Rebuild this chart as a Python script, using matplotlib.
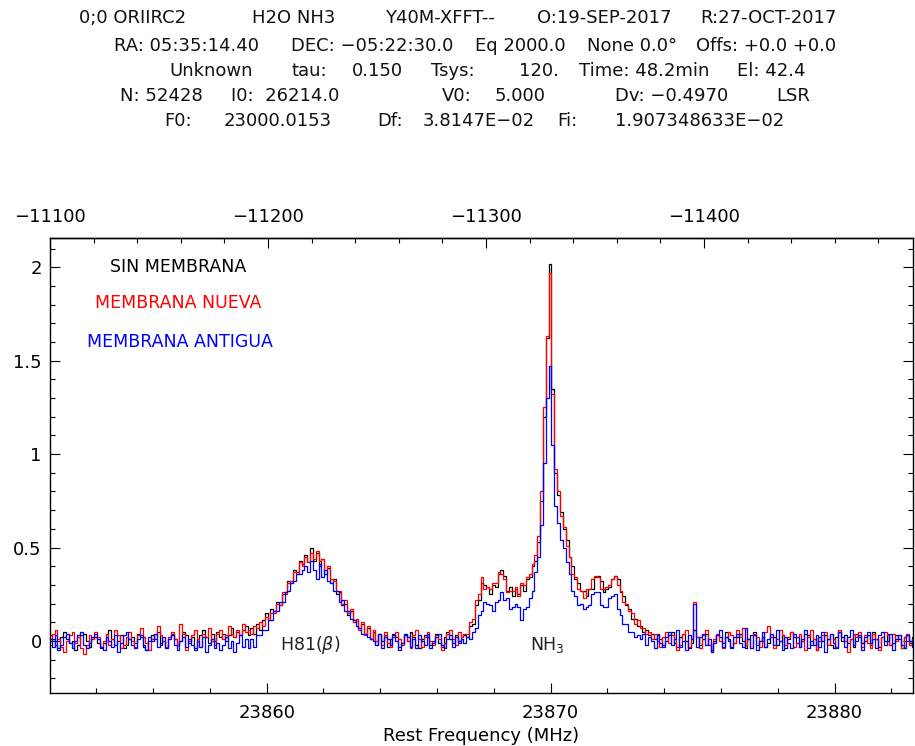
import numpy as np
import matplotlib

matplotlib.use("Agg")
import matplotlib.pyplot as plt
from matplotlib.ticker import MultipleLocator, FixedLocator, FuncFormatter

# channel grid of the resampled spectra (MHz)
f_start = 23852.38
f_step = 0.1

# header values (CLASS style)
f0 = 23000.0153
df = 3.8147e-02
v0 = 5.000
dv = -0.4970

sin_membrana = [
    0.03, 0.01, -0.02, -0.04, 0.02, 0.05, 0.01, -0.01, 0.00, -0.05,
    -0.02, 0.03, 0.04, 0.00, -0.03, 0.01, 0.02, -0.01, -0.04, -0.01,
    0.04, 0.06, 0.01, -0.02, 0.00, 0.03, -0.04, -0.02, 0.01, 0.02,
    -0.01, 0.04, 0.02, -0.03, -0.05, 0.00, 0.03, 0.01, 0.05, -0.02,
    0.00, -0.03, 0.02, 0.04, 0.01, -0.02, 0.00, 0.05, 0.03, -0.01,
    0.02, -0.04, 0.01, 0.03, 0.06, 0.02, -0.01, 0.04, 0.00, 0.05,
    0.02, 0.04, 0.00, 0.03, 0.07, 0.02, 0.05, 0.03, 0.06, 0.08,
    # H81(beta)
    0.03, 0.07, 0.04, 0.09, 0.06, 0.11, 0.15, 0.11, 0.17, 0.16,
    0.21, 0.19, 0.25, 0.26, 0.32, 0.31, 0.38, 0.37, 0.43, 0.41,
    0.46, 0.42, 0.50, 0.43, 0.47, 0.40, 0.44, 0.36, 0.39, 0.31,
    0.33, 0.25, 0.26, 0.19, 0.20, 0.14, 0.16, 0.10, 0.12, 0.07,
    0.09, 0.04, 0.07, 0.01, 0.05, -0.02, 0.04, 0.00, 0.03, -0.03,
    # baseline
    0.01, 0.04, 0.02, -0.03, -0.01, 0.03, 0.00, 0.05, 0.02, -0.02,
    -0.04, 0.01, 0.03, 0.02, -0.02, 0.00, 0.04, -0.01, -0.03, 0.02,
    0.05, 0.01, -0.01, 0.03, 0.00, 0.02,
    # NH3
    0.03, 0.02, 0.08, 0.09, 0.19, 0.22, 0.31, 0.30, 0.29, 0.25,
    0.30, 0.29, 0.36, 0.38, 0.35, 0.27, 0.29, 0.24, 0.28, 0.25,
    0.30, 0.27, 0.33, 0.34, 0.40, 0.43, 0.53, 0.75, 1.20, 1.62,
    2.02, 1.35, 0.90, 0.78, 0.69, 0.60, 0.54, 0.45, 0.40, 0.33,
    0.31, 0.27, 0.27, 0.24, 0.28, 0.28, 0.34, 0.35, 0.32, 0.26,
    0.28, 0.29, 0.33, 0.35, 0.33, 0.26, 0.24, 0.19, 0.17, 0.12,
    0.12, 0.08, 0.08, 0.05, 0.06, 0.03, 0.04, 0.01,
    # baseline
    0.04, 0.01, -0.02, 0.00, 0.03, 0.05, -0.01, -0.03, 0.02, 0.04,
    0.00, -0.04, -0.01, 0.06, 0.02, -0.02,
    0.01, 0.04, -0.02, -0.05, 0.00, 0.03, 0.02, -0.01, 0.05, 0.01,
    -0.03, -0.01, 0.02, 0.04, 0.00, -0.04, 0.01, 0.03, 0.05, -0.02,
    0.00, 0.02, -0.03, -0.01, 0.04, 0.02, -0.02, 0.00, 0.03, -0.04,
    0.01, 0.05, 0.02, -0.01, -0.03, 0.00, 0.04, 0.03, -0.02, 0.01,
    -0.05, 0.02, 0.00, 0.03, 0.01, -0.02, -0.04, 0.02, 0.05, 0.00,
    0.03, -0.01, 0.01, -0.03, 0.04, 0.02, -0.01, 0.00, 0.03, -0.02,
    0.05, 0.01, -0.03, 0.02, 0.00, 0.04, -0.02, -0.01, 0.03, 0.01,
    -0.04, 0.02, 0.03, -0.01, 0.02,
]

membrana_nueva = [
    -0.02, 0.04, 0.06, 0.01, -0.03, -0.06, 0.00, 0.03, 0.05, -0.01,
    0.02, -0.04, -0.07, -0.02, 0.03, 0.01, 0.05, 0.02, -0.03, 0.00,
    0.04, -0.02, 0.01, 0.06, 0.03, -0.04, -0.02, 0.02, 0.05, 0.00,
    -0.03, 0.03, 0.07, 0.02, -0.01, -0.05, 0.01, 0.04, 0.08, 0.03,
    0.00, -0.03, 0.02, 0.05, 0.01, -0.02, 0.09, 0.04, -0.05, 0.00,
    0.03, 0.06, 0.01, -0.03, 0.04, 0.02, 0.07, 0.00, -0.02, 0.04,
    0.06, 0.01, 0.03, 0.08, 0.04, 0.02, 0.06, 0.03, 0.09, 0.05,
    # H81(beta)
    0.06, 0.04, 0.08, 0.07, 0.10, 0.08, 0.13, 0.11, 0.15, 0.15,
    0.20, 0.19, 0.26, 0.25, 0.31, 0.32, 0.37, 0.36, 0.42, 0.40,
    0.45, 0.42, 0.47, 0.44, 0.48, 0.43, 0.44, 0.38, 0.40, 0.33,
    0.32, 0.27, 0.27, 0.20, 0.22, 0.15, 0.17, 0.10, 0.12, 0.06,
    0.10, 0.03, 0.08, 0.01, 0.06, 0.00, 0.04, -0.02, 0.05, -0.01,
    # baseline
    -0.03, 0.02, 0.05, 0.01, -0.02, 0.04, 0.00, -0.04, 0.03, 0.06,
    0.01, -0.03, 0.02, 0.05, 0.00, -0.02, 0.03, 0.01, -0.05, -0.01,
    0.04, 0.06, 0.01, -0.02, 0.05, 0.02,
    # NH3
    0.04, 0.04, 0.10, 0.12, 0.22, 0.25, 0.34, 0.28, 0.29, 0.28,
    0.31, 0.31, 0.37, 0.36, 0.33, 0.26, 0.27, 0.27, 0.29, 0.24,
    0.31, 0.30, 0.34, 0.36, 0.41, 0.46, 0.56, 0.80, 1.25, 1.63,
    1.97, 1.32, 0.92, 0.80, 0.67, 0.61, 0.51, 0.45, 0.36, 0.34,
    0.28, 0.27, 0.23, 0.28, 0.28, 0.33, 0.35, 0.34, 0.28, 0.28,
    0.29, 0.30, 0.33, 0.35, 0.30, 0.27, 0.21, 0.20, 0.16, 0.15,
    0.09, 0.11, 0.07, 0.07, 0.04, 0.05, 0.01,
    # baseline with the spike near 23875.1 MHz
    0.04, 0.00, -0.03, 0.02, 0.05, -0.01, 0.03, 0.01, -0.05, -0.02,
    0.04, 0.06, -0.03, 0.01, 0.21, 0.02, -0.04,
    0.03, 0.06, -0.02, -0.06, 0.01, 0.04, 0.00, -0.04, 0.02, 0.05,
    0.03, -0.01, 0.06, 0.02, 0.07, -0.02, 0.01, -0.04, 0.04, 0.02,
    -0.03, 0.00, 0.05, 0.08, 0.02, -0.04, 0.01, 0.06, 0.03, -0.02,
    0.02, 0.05, -0.03, -0.01, 0.04, 0.00, -0.05, 0.02, 0.06, 0.01,
    -0.05, 0.00, 0.03, 0.05, -0.02, 0.04, 0.01, -0.03, 0.06, 0.02,
    0.00, -0.06, 0.01, 0.04, 0.02, 0.05, -0.03, 0.03, -0.01, -0.04,
    0.04, 0.01, -0.05, 0.02, 0.05, 0.03, -0.02, 0.04, 0.00, 0.03,
    -0.04, 0.02, 0.04, -0.02, 0.01,
]

membrana_antigua = [
    0.01, -0.03, 0.03, -0.05, -0.02, 0.02, 0.04, -0.01, -0.04, 0.00,
    0.03, 0.05, -0.02, -0.04, -0.01, 0.02, 0.04, 0.01, -0.03, -0.05,
    0.02, 0.00, -0.03, 0.03, -0.06, -0.01, 0.03, 0.05, 0.01, -0.02,
    -0.04, 0.01, 0.03, -0.02, -0.05, 0.02, 0.00, 0.04, -0.03, -0.01,
    0.02, -0.04, 0.01, 0.03, -0.02, -0.05, 0.00, 0.02, -0.03, 0.01,
    -0.02, -0.05, 0.00, -0.03, 0.02, -0.06, -0.02, 0.01, -0.04, -0.01,
    -0.05, -0.02, 0.02, -0.04, 0.00, -0.06, -0.01, 0.03, -0.03, 0.01,
    # H81(beta)
    -0.04, 0.01, -0.03, 0.03, 0.03, 0.06, 0.06, 0.11, 0.11, 0.16,
    0.16, 0.21, 0.21, 0.26, 0.27, 0.31, 0.32, 0.36, 0.36, 0.38,
    0.40, 0.37, 0.43, 0.38, 0.33, 0.41, 0.34, 0.38, 0.32, 0.31,
    0.27, 0.27, 0.21, 0.22, 0.16, 0.16, 0.12, 0.11, 0.08, 0.07,
    0.04, 0.04, 0.02, 0.01, 0.00, -0.02, 0.04, -0.04, 0.02, 0.01,
    # baseline
    -0.02, 0.03, 0.00, -0.05, -0.01, 0.04, 0.02, -0.03, 0.01, -0.04,
    0.03, 0.00, -0.02, 0.04, -0.04, -0.01, 0.02, 0.04, -0.02, -0.04,
    0.01, 0.03, -0.03, 0.02, -0.01, 0.01,
    # NH3
    -0.01, 0.02, 0.01, 0.05, 0.07, 0.14, 0.16, 0.21, 0.20, 0.19,
    0.16, 0.21, 0.22, 0.26, 0.22, 0.23, 0.17, 0.18, 0.20, 0.18,
    0.11, 0.17, 0.18, 0.23, 0.27, 0.37, 0.45, 0.62, 0.95, 1.30,
    1.47, 1.05, 0.72, 0.63, 0.54, 0.50, 0.42, 0.36, 0.27, 0.24,
    0.19, 0.20, 0.17, 0.18, 0.19, 0.25, 0.26, 0.26, 0.19, 0.18,
    0.18, 0.23, 0.24, 0.25, 0.17, 0.14, 0.09, 0.09, 0.05, 0.05,
    0.02, 0.03,
    # baseline with the spike near 23875.1 MHz
    0.01, 0.04, -0.02, 0.02, 0.00, -0.04, 0.03, -0.01, -0.03, 0.02,
    0.05, -0.02, 0.01, 0.06, -0.03, 0.00, -0.05, 0.03, 0.01, 0.20,
    -0.03, 0.02,
    0.04, -0.02, 0.01, -0.06, -0.01, 0.03, 0.06, -0.03, 0.02, 0.00,
    -0.04, 0.02, 0.04, -0.01, -0.03, 0.07, 0.01, -0.04, 0.03, -0.05,
    0.00, 0.05, -0.03, 0.01, 0.04, -0.02, 0.06, 0.00, -0.05, 0.02,
    -0.01, -0.04, 0.04, 0.02, -0.03, 0.01, 0.06, -0.04, 0.00, -0.02,
    0.03, -0.03, 0.05, -0.06, 0.01, 0.04, -0.01, -0.04, 0.05, 0.02,
    -0.03, 0.02, 0.06, -0.02, 0.00, 0.03, -0.05, 0.02, 0.05, -0.01,
    0.01, -0.04, 0.03, 0.05, -0.02, 0.00, 0.04, -0.05, 0.01, 0.03,
    -0.02, -0.04, 0.03, 0.00, -0.03,
]

series = [
    ("SIN MEMBRANA", sin_membrana, "#000000"),
    ("MEMBRANA NUEVA", membrana_nueva, "#ff0000"),
    ("MEMBRANA ANTIGUA", membrana_antigua, "#0000ff"),
]

# header lines: (text, x centre px, y centre px)
header = [
    ("0;0 ORIIRC2", 133, 18), ("H2O NH3", 294, 18), ("Y40M-XFFT--", 440, 18),
    ("O:19-SEP-2017", 604, 18), ("R:27-OCT-2017", 768, 18),
    ("RA: 05:35:14.40", 186, 46), ("DEC: \u221205:22:30.0", 372, 46),
    ("Eq 2000.0", 520, 46), ("None 0.0\u00b0", 632, 46), ("Offs: +0.0 +0.0", 766, 46),
    ("Unknown", 211, 71), ("tau:", 309, 71), ("0.150", 377, 71), ("Tsys:", 453, 71),
    ("120.", 539, 71), ("Time: 48.2min", 644, 71), ("El: 42.4", 771, 71),
    ("N: 52428", 161, 96), ("I0:  26214.0", 285, 96), ("V0:", 457, 96),
    ("5.000", 520, 96), ("Dv: \u22120.4970", 672, 96), ("LSR", 793, 96),
    ("F0:", 178, 121), ("23000.0153", 278, 121), ("Df:", 390, 121),
    ("3.8147E\u221202", 479, 121), ("Fi:", 567, 121), ("1.907348633E\u221202", 700, 121),
]

W, H = 915, 746
fig = plt.figure(figsize=(W / 100, H / 100), dpi=100)
ax = fig.add_axes([50 / W, 52.7 / H, 863 / W, 455 / H])

for name, vals, color in series:
    freq = f_start + f_step * np.arange(len(vals))
    ax.plot(freq, vals, drawstyle="steps-mid", color=color, lw=0.9)

ax.set_xlim(23852.37, 23882.76)
ax.set_ylim(-0.28, 2.155)

ax.xaxis.set_major_locator(MultipleLocator(10))
ax.xaxis.set_minor_locator(MultipleLocator(2))
ax.yaxis.set_major_locator(MultipleLocator(0.5))
ax.yaxis.set_minor_locator(MultipleLocator(0.1))
ax.xaxis.set_major_formatter(FuncFormatter(lambda v, _: f"{v:.0f}"))
ax.yaxis.set_major_formatter(FuncFormatter(lambda v, _: f"{v:g}"))
ax.tick_params(which="both", direction="in", right=True, top=False, width=0.8, labelsize=13)
ax.tick_params(which="major", length=7.2)
ax.tick_params(which="minor", length=3.6)
ax.tick_params(axis="x", pad=8)
ax.tick_params(axis="y", pad=6)
for sp in ax.spines.values():
    sp.set_linewidth(1.0)


def f2v(f):
    return v0 + (f - f0) * dv / df


def v2f(v):
    return f0 + (v - v0) * df / dv


sec = ax.secondary_xaxis("top", functions=(f2v, v2f))
sec.xaxis.set_major_locator(FixedLocator([-11100, -11200, -11300, -11400]))
sec.xaxis.set_minor_locator(FixedLocator(np.arange(-11480, -11100, 20)))
sec.xaxis.set_major_formatter(FuncFormatter(lambda v, _: f"{v:.0f}".replace("-", "\u2212")))
sec.tick_params(which="both", direction="in", width=0.8, labelsize=13, pad=9)
sec.tick_params(which="major", length=7.2)
sec.tick_params(which="minor", length=3.6)
sec.spines["top"].set_linewidth(1.0)

ax.set_xlabel("Rest Frequency (MHz)", fontsize=13, labelpad=3)

# legend texts and line names
ax.text(23854.48, 2.0, "SIN MEMBRANA", color="#000000", fontsize=12.5, va="center")
ax.text(23853.95, 1.81, "MEMBRANA NUEVA", color="#ff0000", fontsize=12.5, va="center")
ax.text(23853.67, 1.60, "MEMBRANA ANTIGUA", color="#0000ff", fontsize=12.5, va="center")
ax.text(23860.47, -0.02, r"H81($\beta$)", fontsize=12.5, va="center", color="#222222")
ax.text(23869.27, -0.02, r"NH$_3$", fontsize=12.5, va="center", color="#222222")

for txt, x, y in header:
    fig.text(x / W, 1 - y / H, txt, ha="center", va="center", fontsize=13, color="#111111")

fig.savefig("out.png", dpi=100)
